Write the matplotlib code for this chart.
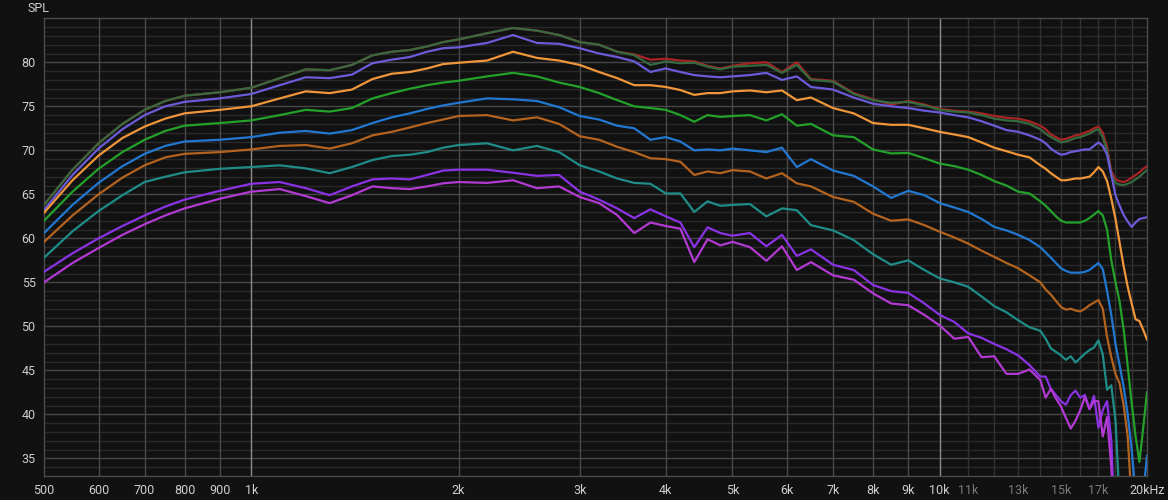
import numpy as np
import matplotlib.pyplot as plt

# frequency grid (Hz) shared by every curve
freq = [500, 550, 600, 650, 700, 750, 800, 900, 1000,
        1100, 1200, 1300, 1400, 1500, 1600, 1700, 1800, 1900, 2000,
        2200, 2400, 2600, 2800,
        3000, 3200, 3400, 3600, 3800, 4000,
        4200, 4400, 4600, 4800, 5000,
        5300, 5600, 5900, 6200, 6500,
        7000, 7500, 8000, 8500, 9000, 9500,
        10000, 10500, 11000, 11500, 12000, 12500, 13000, 13500,
        14000, 14250, 14500, 14750, 15000, 15250, 15500, 15750,
        16000, 16250, 16500, 16750, 17000, 17250, 17500, 17750,
        18000, 18250, 18500, 18750, 19000, 19250, 19500, 19750, 20000]

spl_red = [63.8, 67.8, 70.8, 73.0, 74.6, 75.6, 76.2, 76.6, 77.1,
           78.2, 79.2, 79.1, 79.7, 80.8, 81.2, 81.4, 81.8, 82.3, 82.6,
           83.3, 83.9, 83.6, 83.1,
           82.3, 82.0, 81.2, 80.9, 80.3, 80.4,
           80.2, 80.1, 79.6, 79.3, 79.6,
           79.9, 80.0, 78.9, 80.0, 78.1,
           77.9, 76.5, 75.8, 75.2, 75.6, 75.2,
           74.7, 74.5, 74.4, 74.2, 73.9, 73.7, 73.6, 73.3,
           72.8, 72.4, 71.8, 71.5, 71.2, 71.3, 71.5, 71.7,
           71.8, 72.0, 72.2, 72.5, 72.7, 72.0, 70.4, 67.6,
           66.7, 66.5, 66.4, 66.6, 66.9, 67.2, 67.5, 67.9, 68.2]

spl_dkgreen = [63.8, 67.8, 70.8, 73.0, 74.6, 75.6, 76.2, 76.6, 77.1,
               78.2, 79.2, 79.1, 79.7, 80.8, 81.2, 81.4, 81.8, 82.3, 82.6,
               83.3, 83.9, 83.6, 83.1,
               82.3, 82.0, 81.2, 80.8, 79.7, 80.1,
               79.9, 79.95, 79.5, 79.2, 79.5,
               79.6, 79.7, 78.8, 79.7, 78.0,
               77.8, 76.4, 75.7, 75.4, 75.5, 75.1,
               74.6, 74.4, 74.3, 74.0, 73.6, 73.4, 73.3, 73.0,
               72.4, 71.9, 71.5, 71.2, 70.9, 71.0, 71.2, 71.4,
               71.5, 71.7, 71.9, 72.2, 72.4, 71.5, 70.0, 67.2,
               66.3, 66.1, 66.05, 66.2, 66.4, 66.7, 67.0, 67.4, 67.75]

spl_slate = [63.2, 67.2, 70.2, 72.4, 74.0, 75.0, 75.5, 75.9, 76.4,
             77.4, 78.3, 78.2, 78.6, 79.9, 80.3, 80.6, 81.2, 81.6, 81.7,
             82.2, 83.1, 82.2, 82.1,
             81.6, 81.0, 80.6, 80.1, 78.9, 79.3,
             78.9, 78.55, 78.4, 78.3, 78.4,
             78.55, 78.8, 78.0, 78.4, 77.2,
             76.9, 76.0, 75.3, 75.0, 74.8, 74.5,
             74.3, 74.0, 73.75, 73.3, 72.8, 72.3, 72.1, 71.7,
             71.2, 70.8, 70.2, 69.8, 69.5, 69.6, 69.8, 69.9,
             70.0, 70.1, 70.1, 70.5, 70.9, 70.5, 69.5, 67.2,
             64.9, 63.7, 62.65, 61.9, 61.3, 61.8, 62.2, 62.3, 62.4]

spl_orange = [62.9, 66.6, 69.4, 71.4, 72.7, 73.6, 74.2, 74.6, 75.0,
              75.9, 76.7, 76.5, 76.9, 78.1, 78.7, 78.9, 79.3, 79.8, 79.95,
              80.2, 81.2, 80.5, 80.2,
              79.7, 78.9, 78.2, 77.4, 77.4, 77.2,
              76.85, 76.3, 76.5, 76.5, 76.7,
              76.8, 76.6, 76.8, 75.7, 76.0,
              74.8, 74.2, 73.1, 72.9, 72.9, 72.5,
              72.1, 71.8, 71.5, 70.9, 70.3, 69.9, 69.5, 69.2,
              68.3, 67.9, 67.4, 67.0, 66.6, 66.6, 66.7, 66.8,
              66.8, 66.9, 67.0, 67.5, 68.1, 67.6, 66.5, 64.5,
              62.2, 59.5, 56.8, 54.5, 52.6, 50.8, 50.6, 49.6, 48.5]

spl_green = [62.0, 65.3, 67.9, 69.8, 71.2, 72.2, 72.8, 73.1, 73.4,
             74.0, 74.6, 74.4, 74.8, 75.9, 76.5, 77.0, 77.4, 77.7, 77.9,
             78.4, 78.8, 78.4, 77.7,
             77.2, 76.5, 75.7, 75.0, 74.8, 74.6,
             74.0, 73.25, 74.0, 73.8, 73.9,
             74.0, 73.4, 74.1, 72.8, 73.0,
             71.7, 71.5, 70.1, 69.65, 69.7, 69.1,
             68.5, 68.2, 67.8, 67.2, 66.5, 66.0, 65.3, 65.1,
             64.2, 63.7, 63.1, 62.5, 62.0, 61.8, 61.8, 61.8,
             61.8, 62.0, 62.3, 62.7, 63.1, 62.6, 61.0, 57.5,
             55.0, 52.8, 49.6, 45.5, 41.3, 37.5, 34.6, 38.5, 42.5]

spl_blue = [60.6, 63.8, 66.3, 68.2, 69.6, 70.5, 71.0, 71.2, 71.5,
            72.0, 72.2, 71.9, 72.3, 73.1, 73.75, 74.2, 74.7, 75.1, 75.4,
            75.9, 75.8, 75.6, 74.9,
            73.9, 73.5, 72.8, 72.5, 71.2, 71.5,
            71.0, 70.0, 70.1, 70.0, 70.2,
            70.0, 69.8, 70.3, 68.1, 69.0,
            67.7, 67.1, 65.9, 64.6, 65.4, 64.9,
            64.0, 63.5, 63.0, 62.2, 61.3, 60.9, 60.4, 59.8,
            59.0, 58.4, 57.8, 57.2, 56.6, 56.3, 56.1, 56.1,
            56.1, 56.2, 56.4, 56.8, 57.2, 56.5, 54.0, 51.3,
            48.0, 45.6, 43.1, 40.0, 36.0, 31.0, 28.0, 31.0, 35.3]

spl_brown = [59.6, 62.6, 65.0, 66.9, 68.3, 69.2, 69.6, 69.8, 70.1,
             70.5, 70.6, 70.2, 70.8, 71.7, 72.1, 72.6, 73.1, 73.5, 73.9,
             74.0, 73.4, 73.75, 73.0,
             71.6, 71.2, 70.4, 69.8, 69.1, 69.0,
             68.7, 67.2, 67.6, 67.4, 67.75,
             67.6, 66.8, 67.4, 66.25, 65.9,
             64.7, 64.15, 62.8, 62.0, 62.15, 61.5,
             60.75, 60.1, 59.4, 58.6, 57.9, 57.2, 56.6, 55.8,
             55.0, 54.2, 53.6, 52.9, 52.2, 51.9, 52.0, 51.8,
             51.7, 52.0, 52.4, 52.7, 53.0, 52.0, 48.8, 46.5,
             44.6, 43.5, 41.0, 37.5, 30.0, 28.0, 28.0, 28.0, 28.0]

spl_teal = [57.8, 60.8, 63.1, 64.9, 66.4, 67.0, 67.5, 67.9, 68.1,
            68.3, 67.95, 67.4, 68.1, 68.9, 69.35, 69.5, 69.8, 70.3, 70.6,
            70.8, 70.0, 70.5, 69.8,
            68.3, 67.6, 66.8, 66.3, 66.2, 65.1,
            65.1, 63.0, 64.2, 63.7, 63.8,
            63.9, 62.5, 63.4, 63.2, 61.5,
            60.9, 59.8, 58.2, 57.0, 57.5, 56.4,
            55.45, 55.0, 54.5, 53.4, 52.3, 51.6, 50.7, 49.9,
            49.5, 48.6, 47.5, 47.1, 46.7, 46.2, 46.6, 45.9,
            46.4, 46.9, 47.3, 47.6, 48.4, 46.8, 42.8, 43.3,
            39.3, 30.0, 28.0, 28.0, 28.0, 28.0, 28.0, 28.0, 28.0]

spl_purple = [56.2, 58.3, 60.0, 61.4, 62.6, 63.6, 64.4, 65.4, 66.2,
              66.4, 65.7, 64.9, 65.9, 66.7, 66.8, 66.7, 67.2, 67.7, 67.8,
              67.8, 67.45, 67.1, 67.2,
              65.3, 64.4, 63.4, 62.3, 63.3, 62.5,
              61.8, 59.0, 61.25, 60.6, 60.3,
              60.6, 59.1, 60.4, 58.0, 58.75,
              57.0, 56.4, 54.7, 54.0, 53.8, 52.6,
              51.3, 50.5, 49.2, 48.7, 48.0, 47.4, 46.7, 45.6,
              44.3, 44.3, 42.9, 42.2, 41.5, 41.1, 42.2, 42.7,
              41.9, 42.2, 40.6, 42.1, 38.5, 40.5, 41.5, 37.0,
              25.0, 25.0, 25.0, 25.0, 25.0, 25.0, 25.0, 25.0, 25.0]

spl_magenta = [55.0, 57.2, 58.9, 60.4, 61.6, 62.6, 63.4, 64.5, 65.3,
               65.6, 64.8, 64.0, 64.9, 65.9, 65.7, 65.6, 65.9, 66.25, 66.4,
               66.3, 66.6, 65.7, 65.9,
               64.7, 64.0, 62.65, 60.6, 61.8, 61.4,
               61.1, 57.3, 59.9, 59.2, 59.6,
               59.0, 57.45, 59.1, 56.4, 57.3,
               55.8, 55.3, 53.75, 52.6, 52.4, 51.3,
               50.1, 48.6, 48.8, 46.5, 46.6, 44.6, 44.6, 45.1,
               43.9, 41.9, 42.9, 41.8, 40.9, 39.6, 38.4, 39.3,
               40.5, 42.0, 40.6, 41.5, 41.5, 37.5, 39.7, 34.0,
               25.0, 25.0, 25.0, 25.0, 25.0, 25.0, 25.0, 25.0, 25.0]

curves = [
    (spl_red, '#a82424'),
    (spl_dkgreen, '#35693f'),
    (spl_slate, '#6a5bd8'),
    (spl_orange, '#f0963a'),
    (spl_green, '#23a12a'),
    (spl_blue, '#2278d0'),
    (spl_brown, '#b4631f'),
    (spl_teal, '#1f8c88'),
    (spl_purple, '#8a32e4'),
    (spl_magenta, '#b23ad2'),
]

xticks = [500, 600, 700, 800, 900, 1000, 2000, 3000, 4000, 5000, 6000, 7000,
          8000, 9000, 10000, 11000, 13000, 15000, 17000, 20000]
xlabels = ['500', '600', '700', '800', '900', '1k', '2k', '3k', '4k', '5k', '6k',
           '7k', '8k', '9k', '10k', '11k', '13k', '15k', '17k', '20kHz']
dim_labels = ['11k', '13k', '15k', '17k']
yticks = [35, 40, 45, 50, 55, 60, 65, 70, 75, 80]

bg = '#111111'
plt.rcParams['font.family'] = ['Roboto', 'DejaVu Sans']

fig = plt.figure(figsize=(11.68, 5.0), dpi=100, facecolor=bg)
ax = fig.add_axes([44 / 1168, 1 - 476 / 500, 1103 / 1168, (476 - 18.3) / 500])
ax.set_facecolor(bg)
ax.set_xscale('log')
ax.set_xlim(500, 20000)
ax.set_ylim(33, 85)

# horizontal grid
for v in range(34, 85):
    if v % 5 == 0:
        ax.axhline(v, color='#474747', lw=1.0, zorder=1)
    else:
        ax.axhline(v, color='#292929', lw=1.0, zorder=0.5)

# vertical grid
for f in [600, 700, 800, 900, 2000, 3000, 4000, 5000, 6000, 7000, 8000, 9000]:
    ax.axvline(f, color='#4a4a4a', lw=1.0, zorder=1)
for f in [1000, 10000]:
    ax.axvline(f, color='#8c8c8c', lw=1.0, zorder=1)
for f in range(11000, 20000, 1000):
    ax.axvline(f, color='#333333', lw=1.0, zorder=1)

for vals, col in curves:
    ax.plot(freq, vals, color=col, lw=1.6, solid_joinstyle='round', zorder=3)

ax.set_xticks(xticks)
ax.set_xticklabels(xlabels)
ax.minorticks_off()
ax.set_yticks(yticks)
ax.tick_params(axis='both', length=0, labelsize=9, colors='#cfcfcf')
ax.tick_params(axis='x', pad=6)
ax.tick_params(axis='y', pad=6)
for lab in ax.get_xticklabels():
    if lab.get_text() in dim_labels:
        lab.set_color('#7a7a7a')

for s in ax.spines.values():
    s.set_color('#4a4a4a')
    s.set_linewidth(1.0)

fig.text(28 / 1168, 1 - 9 / 500, 'SPL', color='#cfcfcf', fontsize=9,
         ha='left', va='center')

fig.savefig('out.png', dpi=100, facecolor=bg)
